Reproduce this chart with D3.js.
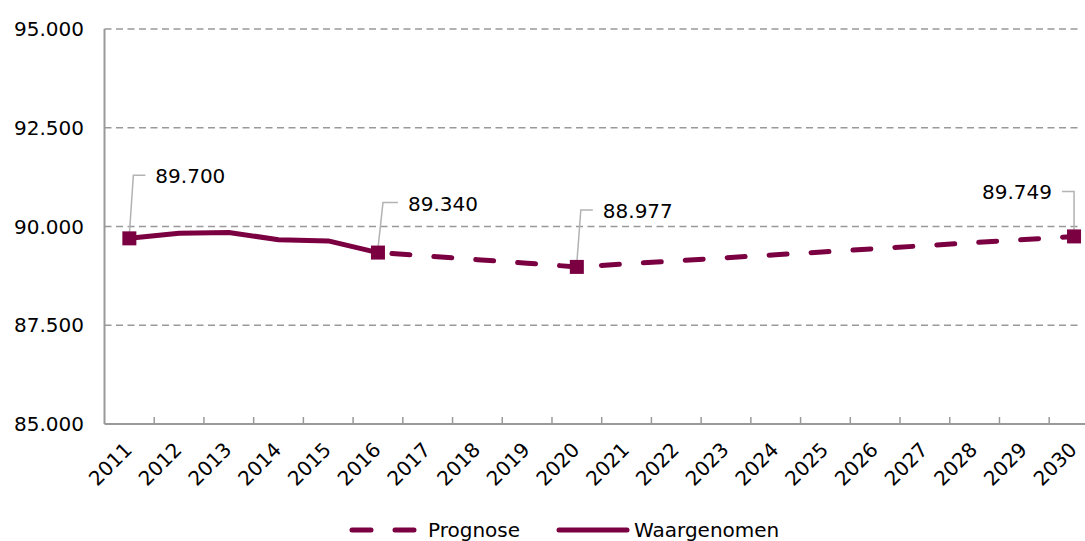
<!DOCTYPE html>
<html>
<head>
<meta charset="utf-8">
<script src="https://cdn.jsdelivr.net/npm/d3@7"></script>
<style>
  body { margin: 0; background: #fff; }
  svg text { font-family: "DejaVu Sans", sans-serif; fill: #000; }
</style>
</head>
<body>
<div id="chart"></div>
<script>

/* DATA */

var years = ["2011", "2012", "2013", "2014", "2015", "2016", "2017", "2018", "2019", "2020",
             "2021", "2022", "2023", "2024", "2025", "2026", "2027", "2028", "2029", "2030"];

// Waargenomen 2011-2016
var observedYears = ["2011", "2012", "2013", "2014", "2015", "2016"];
var observed = [89700, 89830, 89850, 89665, 89635, 89340];

// Prognose 2016-2030
var forecastYears = ["2016", "2017", "2018", "2019", "2020", "2021", "2022", "2023",
                     "2024", "2025", "2026", "2027", "2028", "2029", "2030"];
var forecast = [89340, 89250, 89160, 89070, 88977, 89055, 89130, 89210,
                89285, 89360, 89440, 89515, 89595, 89670, 89749];

var yTicks = [85000, 87500, 90000, 92500, 95000];

// labelled points
var labelYears = ["2011", "2016", "2020", "2030"];
var labelValues = [89700, 89340, 88977, 89749];

var legendNames = ["Prognose", "Waargenomen"];

/* LAYOUT */

var w = 1085;
var h = 541;
var colour = "#7b0041";
var grey = "#999";

// leader line / label placement per callout (relative to the point)
var callouts = [
  {lift: 63, lean: 4, arm: 12, side: 1},
  {lift: 50, lean: 5, arm: 15, side: 1},
  {lift: 57, lean: 4, arm: 12, side: 1},
  {lift: 45, lean: 0, arm: 12, side: -1}
];

var nl = d3.formatLocale({decimal: ",", thousands: ".", grouping: [3], currency: ["", ""]});
var fmt = nl.format(",d");

function drawChart(){

  var svg = d3.select("#chart").append("svg")
              .attr("width", w)
              .attr("height", h);

  var x = d3.scaleBand()
            .domain(years)
            .range([104.5, 104.5 + 49.72 * years.length]);

  var y = d3.scaleLinear()
            .domain([85000, 95000])
            .range([424, 29]);

  var cx = function(d){ return x(d) + x.bandwidth() / 2; };

  // gridlines
  svg.append("g")
     .selectAll("line")
     .data(yTicks.filter(function(d){ return d > 85000; }))
     .enter().append("line")
     .attr("x1", x.range()[0])
     .attr("x2", w - 3)
     .attr("y1", function(d){ return y(d); })
     .attr("y2", function(d){ return y(d); })
     .style("stroke", grey)
     .style("stroke-width", 1.5)
     .style("stroke-dasharray", "7,4.5");

  // y axis
  svg.append("line")
     .attr("x1", x.range()[0]).attr("x2", x.range()[0])
     .attr("y1", y(95000)).attr("y2", y(85000))
     .style("stroke", grey).style("stroke-width", 2);

  svg.append("g")
     .selectAll("text")
     .data(yTicks)
     .enter().append("text")
     .attr("x", 84)
     .attr("y", function(d){ return y(d) + 7; })
     .attr("text-anchor", "end")
     .style("font-size", "20px")
     .text(function(d){ return fmt(d); });

  // x axis
  svg.append("line")
     .attr("x1", x.range()[0]).attr("x2", w)
     .attr("y1", y(85000)).attr("y2", y(85000))
     .style("stroke", grey).style("stroke-width", 2);

  svg.append("g")
     .selectAll("line")
     .data(years.slice(1))
     .enter().append("line")
     .attr("x1", function(d){ return x(d); })
     .attr("x2", function(d){ return x(d); })
     .attr("y1", y(85000))
     .attr("y2", y(85000) - 7)
     .style("stroke", grey).style("stroke-width", 1.5);

  svg.append("g")
     .selectAll("text")
     .data(years)
     .enter().append("text")
     .attr("transform", function(d){ return "translate(" + (cx(d) + 4) + "," + (y(85000) + 27) + ") rotate(-45)"; })
     .attr("text-anchor", "end")
     .style("font-size", "20px")
     .text(function(d){ return d; });

  // lines
  var line = d3.line()
               .x(function(d){ return cx(d[0]); })
               .y(function(d){ return y(d[1]); });

  svg.append("path")
     .datum(d3.zip(forecastYears, forecast))
     .attr("d", line)
     .style("fill", "none")
     .style("stroke", colour)
     .style("stroke-width", 5)
     .style("stroke-linecap", "round")
     .style("stroke-dasharray", "18,24")
     .style("stroke-dashoffset", -14);

  svg.append("path")
     .datum(d3.zip(observedYears, observed))
     .attr("d", line)
     .style("fill", "none")
     .style("stroke", colour)
     .style("stroke-width", 5)
     .style("stroke-linejoin", "round")
     .style("stroke-linecap", "round");

  // callouts
  var labelled = d3.zip(labelYears, labelValues, callouts);

  var callout = svg.append("g")
                   .selectAll("g")
                   .data(labelled)
                   .enter().append("g");

  callout.append("path")
         .attr("d", function(d){
           var px = cx(d[0]), py = y(d[1]), c = d[2];
           var tx = px + c.lean, ty = py - c.lift;
           return "M" + px + "," + (py - 4) + "L" + tx + "," + ty + "L" + (tx + c.side * c.arm) + "," + ty;
         })
         .style("fill", "none")
         .style("stroke", "#b3b3b3")
         .style("stroke-width", 1.5);

  callout.append("rect")
         .attr("x", function(d){ return cx(d[0]) - 7; })
         .attr("y", function(d){ return y(d[1]) - 7; })
         .attr("width", 14)
         .attr("height", 14)
         .style("fill", colour);

  callout.append("text")
         .attr("x", function(d){ return cx(d[0]) + d[2].lean + d[2].side * (d[2].arm + 10); })
         .attr("y", function(d){ return y(d[1]) - d[2].lift + 8; })
         .attr("text-anchor", function(d){ return d[2].side > 0 ? "start" : "end"; })
         .style("font-size", "20px")
         .text(function(d){ return fmt(d[1]); });

  // legend
  var legend = svg.append("g");

  legend.append("line")
        .attr("x1", 352).attr("x2", 414)
        .attr("y1", 530).attr("y2", 530)
        .style("stroke", colour)
        .style("stroke-width", 5)
        .style("stroke-linecap", "round")
        .style("stroke-dasharray", "19,24");

  legend.append("text")
        .attr("x", 428).attr("y", 537)
        .style("font-size", "20px")
        .text(legendNames[0]);

  legend.append("line")
        .attr("x1", 559).attr("x2", 627)
        .attr("y1", 530).attr("y2", 530)
        .style("stroke", colour)
        .style("stroke-width", 5)
        .style("stroke-linecap", "round");

  legend.append("text")
        .attr("x", 634).attr("y", 537)
        .style("font-size", "20px")
        .text(legendNames[1]);

};

drawChart();

</script>
</body>
</html>
